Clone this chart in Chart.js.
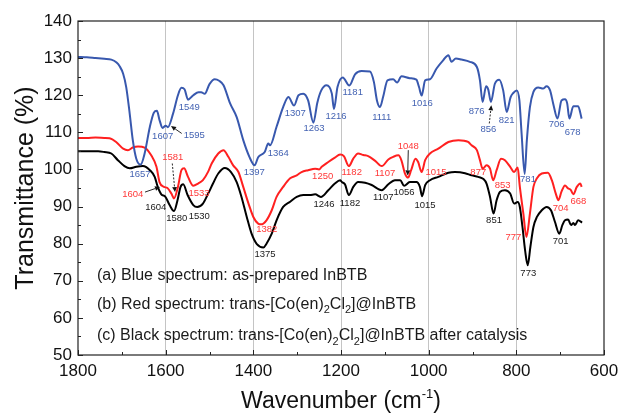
<!DOCTYPE html>
<html>
<head>
<meta charset="utf-8">
<script src="https://cdn.jsdelivr.net/npm/chart.js@4/dist/chart.umd.min.js"></script>
<style>
html,body{margin:0;padding:0;background:#fff;}
#wrap{width:620px;height:415px;}
</style>
</head>
<body>
<div id="wrap"><canvas id="c" width="620" height="415"></canvas></div>
<script>
// ---------- DATA ----------
const xTickLabels = [1800, 1600, 1400, 1200, 1000, 800, 600];
const yTickLabels = [50, 60, 70, 80, 90, 100, 110, 120, 130, 140];

const blueWn = [1800,1780,1760,1740,1724,1712,1705,1697,1690,1682,1675,1667,1657,1648,1636,1627,1620,1614,1607,1600,1595,1583,1572,1564,1557,1549,1537,1525,1519,1511,1500,1488,1478,1468,1453,1438,1423,1409,1397,1389,1374,1366,1362,1347,1332,1320,1307,1297,1286,1275,1263,1254,1245,1233,1221,1216,1208,1196,1181,1168,1153,1134,1125,1118,1111,1104,1094,1081,1072,1062,1043,1028,1022,1016,1008,997,982,967,955,948,938,925,906,890,883,877,869,864,858,849,839,830,822,813,807,799,793,788,781,776,769,761,750,739,731,723,716,706,697,689,684,679,670,659,651];
const blueT  = [130.3,130.2,130.0,129.8,129.6,128.8,127.8,125.8,122.2,115.0,107.9,102.9,101.3,104.3,111.5,115.3,115.8,113.3,111.2,111.8,111.4,115.1,120.0,122.0,121.6,118.8,120.0,120.8,120.8,120.4,123.0,124.3,123.9,122.7,117.8,114.1,107.9,103.4,101.1,103.3,104.7,107.0,106.5,111.5,116.8,119.5,117.2,120.0,120.4,118.6,112.6,118.0,121.3,122.7,120.5,116.3,122.2,124.8,122.6,125.6,126.5,126.4,123.6,118.6,116.8,119.5,124.0,124.3,123.4,125.1,124.6,124.2,122.2,119.9,124.0,124.3,127.2,129.4,130.8,129.0,129.9,129.6,129.0,127.6,124.0,118.2,122.4,121.5,118.2,123.1,124.2,121.3,115.5,119.5,120.6,121.3,118.6,109.7,98.8,107.9,116.8,120.9,122.1,121.8,122.4,121.3,117.8,113.7,118.6,118.9,117.8,113.7,117.0,117.0,113.7];

const redWn = [1800,1780,1760,1740,1728,1713,1697,1686,1675,1663,1648,1633,1621,1614,1604,1596,1587,1581,1572,1564,1558,1549,1537,1526,1515,1503,1495,1480,1468,1457,1446,1434,1423,1411,1400,1389,1382,1370,1358,1347,1332,1316,1301,1290,1275,1259,1250,1244,1229,1214,1202,1193,1182,1172,1161,1149,1138,1122,1107,1092,1081,1069,1062,1054,1047,1040,1030,1024,1016,1008,997,978,955,932,910,902,890,883,877,868,860,853,845,835,826,814,805,797,792,784,777,769,761,753,742,728,719,710,704,697,689,682,676,670,662,654,651];
const redT  = [108.5,108.5,108.6,108.5,108.4,107.4,105.6,105.2,105.9,106.2,105.9,103.8,100.7,96.6,95.3,95.0,93.5,92.2,95.3,99.8,100.3,98.0,95.6,96.2,97.1,99.4,101.6,104.3,105.2,103.4,101.1,99.3,95.3,90.8,87.2,85.4,85.2,86.3,89.0,92.6,95.3,97.6,98.4,99.3,99.8,100.2,100.0,100.7,102.0,103.2,104.0,103.5,100.9,102.9,104.3,103.9,103.6,102.3,100.9,102.7,103.4,103.8,102.4,98.9,97.8,99.8,102.9,102.0,99.3,102.5,104.3,105.6,107.4,107.9,107.4,106.5,105.2,102.5,100.2,101.1,100.2,97.1,99.8,102.9,102.5,100.7,99.3,100.5,95.3,88.1,81.8,88.1,95.3,97.6,98.9,99.1,97.1,93.5,91.7,94.0,95.7,94.9,94.5,93.3,95.3,96.2,95.3];

const blackWn = [1800,1780,1754,1740,1724,1709,1694,1682,1667,1652,1636,1625,1618,1610,1601,1591,1581,1573,1566,1560,1550,1537,1528,1515,1503,1492,1480,1465,1451,1438,1427,1415,1404,1392,1377,1370,1358,1347,1332,1316,1301,1286,1271,1259,1246,1229,1214,1202,1198,1191,1182,1172,1161,1145,1130,1107,1092,1077,1065,1056,1043,1028,1020,1015,1008,997,978,955,940,917,902,887,875,868,860,852,845,837,826,814,805,797,792,786,780,774,768,761,753,742,731,721,712,702,695,689,682,675,670,666,659,650];
const blackT  = [104.9,104.9,104.9,104.7,104.3,102.5,100.9,100.3,100.7,100.9,99.8,98.0,95.3,93.3,92.7,90.4,88.8,91.7,95.3,96.0,93.1,90.4,89.9,90.8,93.5,96.2,98.9,100.4,99.3,96.6,92.6,87.2,82.7,79.9,79.0,80.0,82.7,86.3,89.9,91.3,92.6,93.1,93.1,93.3,92.6,94.4,96.2,97.1,96.6,96.0,93.1,95.3,96.6,96.4,95.8,94.4,96.0,97.1,97.1,95.6,96.6,96.6,95.3,92.8,95.8,97.1,98.0,99.1,99.3,99.0,98.4,98.0,97.4,96.2,92.6,88.1,91.7,94.0,94.4,93.5,90.8,91.2,89.9,84.5,78.2,74.2,79.1,84.5,87.2,89.0,89.9,89.0,85.9,82.7,85.0,86.3,86.5,85.0,85.6,85.0,86.3,85.7];

// peak labels: text, label-anchor wavenumber, label-anchor transmittance
const blueLabels  = ['1657','1607','1595','1549','1397','1364','1307','1263','1216','1181','1111','1016','876','856','821','781','706','678'];
const blueLabWn   = [1658.6,1606.8,1534.7,1546.1,1397.8,1343.0,1304.3,1261.6,1211.4,1173.3,1107.1,1014.5,890.4,863.9,822.0,773.4,707.9,671.4];
const blueLabT    = [98.7,108.9,109.2,116.8,99.2,104.3,115.1,111.0,114.4,120.8,114.1,117.8,115.7,110.8,113.3,97.3,112.2,110.0];

const redLabels = ['1604','1581','1533','1382','1250','1182','1107','1048','1015','877','853','777','704','668'];
const redLabWn  = [1675.2,1583.9,1524.0,1369.5,1241.8,1175.6,1099.6,1046.5,983.3,886.8,831.1,806.9,698.8,658.6];
const redLabT   = [93.2,103.2,93.5,83.8,98.0,99.1,98.9,106.3,99.3,99.3,95.8,81.7,89.5,91.3];

const blackLabels = ['1604','1580','1530','1375','1246','1182','1107','1056','1015','851','773','701'];
const blackLabWn  = [1622.7,1574.8,1523.3,1373.4,1238.8,1179.5,1103.5,1056.3,1008.4,850.9,772.7,698.8];
const blackLabT   = [89.7,86.8,87.4,77.2,90.6,90.8,92.4,93.7,90.4,86.3,72.0,80.5];

// arrows: from (wn,T) to (wn,T)
const arrowFromWn = [1563.4, 861.7, 1647.1, 1584.9, 1046.5];
const arrowFromT  = [109.7, 112.4, 93.9, 101.6, 105.2];
const arrowToWn   = [1587.8, 857.1, 1612.9, 1578.7, 1047.9];
const arrowToT    = [111.7, 117.3, 95.3, 93.9, 98.4];
const arrowDashed = [false, true, false, true, false];

// description lines
const noteLines = [
  [['(a) Blue spectrum: as-prepared InBTB', 0]],
  [['(b) Red spectrum: trans-[Co(en)', 0], ['2', 1], ['Cl', 0], ['2', 1], [']@InBTB', 0]],
  [['(c) Black spectrum: trans-[Co(en)', 0], ['2', 1], ['Cl', 0], ['2', 1], [']@InBTB after catalysis', 0]]
];
const noteWn = 1756.7;
const noteT = [71.5, 63.7, 55.1];

// ---------- STYLE ----------
const BLUE = '#3858ae', BLUE_TXT = '#4463b3';
const RED = '#ff2020', RED_TXT = '#ff3838';
const BLACK = '#000000', BLACK_TXT = '#1a1a1a';
const FONT = '"Liberation Sans", Arial, Helvetica, sans-serif';

function pts(xs, ys) { return xs.map((x, i) => ({x: x, y: ys[i]})); }

const annot = {
  id: 'annot',
  afterDatasetsDraw(chart) {
    const c = chart.ctx, xs = chart.scales.x, ys = chart.scales.y, a = chart.chartArea;
    c.save();
    // frame
    c.strokeStyle = '#222'; c.lineWidth = 1.2;
    c.strokeRect(a.left, a.top, a.right - a.left, a.bottom - a.top);
    // inward ticks
    c.lineWidth = 1; c.strokeStyle = '#222';
    c.beginPath();
    for (let v = 600; v <= 1800; v += 100) {
      const px = Math.round(xs.getPixelForValue(v)) + 0.5;
      const len = (v % 200 === 0) ? 5 : 3;
      c.moveTo(px, a.bottom); c.lineTo(px, a.bottom - len);
    }
    for (let v = 50; v <= 140; v += 5) {
      const py = Math.round(ys.getPixelForValue(v)) + 0.5;
      const len = (v % 10 === 0) ? 5 : 3;
      c.moveTo(a.left, py); c.lineTo(a.left + len, py);
    }
    c.stroke();

    // peak labels
    c.textAlign = 'center'; c.textBaseline = 'middle';
    const drawLabs = (txt, wn, t, col) => {
      c.fillStyle = col;
      c.font = '9.5px ' + FONT;
      txt.forEach((s, i) => c.fillText(s, xs.getPixelForValue(wn[i]), ys.getPixelForValue(t[i])));
    };
    drawLabs(blueLabels, blueLabWn, blueLabT, BLUE_TXT);
    drawLabs(redLabels, redLabWn, redLabT, RED_TXT);
    drawLabs(blackLabels, blackLabWn, blackLabT, BLACK_TXT);

    // arrows
    arrowFromWn.forEach((w, i) => {
      const x1 = xs.getPixelForValue(w), y1 = ys.getPixelForValue(arrowFromT[i]);
      const x2 = xs.getPixelForValue(arrowToWn[i]), y2 = ys.getPixelForValue(arrowToT[i]);
      c.strokeStyle = '#111'; c.fillStyle = '#111'; c.lineWidth = 0.9;
      c.setLineDash(arrowDashed[i] ? [2, 1.5] : []);
      const ang = Math.atan2(y2 - y1, x2 - x1);
      const hl = 5, hw = 2.4;
      c.beginPath();
      c.moveTo(x1, y1);
      c.lineTo(x2 - Math.cos(ang) * hl, y2 - Math.sin(ang) * hl);
      c.stroke();
      c.setLineDash([]);
      c.beginPath();
      c.moveTo(x2, y2);
      c.lineTo(x2 - Math.cos(ang) * hl - Math.sin(ang) * hw, y2 - Math.sin(ang) * hl + Math.cos(ang) * hw);
      c.lineTo(x2 - Math.cos(ang) * hl + Math.sin(ang) * hw, y2 - Math.sin(ang) * hl - Math.cos(ang) * hw);
      c.closePath(); c.fill();
    });

    // description lines
    c.textAlign = 'left'; c.textBaseline = 'middle'; c.fillStyle = '#1a1a1a';
    noteLines.forEach((segs, i) => {
      let x = xs.getPixelForValue(noteWn);
      const y = ys.getPixelForValue(noteT[i]);
      segs.forEach(([s, sub]) => {
        c.font = (sub ? '11px ' : '16px ') + FONT;
        c.fillText(s, x, sub ? y + 6 : y);
        x += c.measureText(s).width;
      });
    });

    // x-axis title with superscript
    const main1 = 'Wavenumber (cm', sup = '-1', main2 = ')';
    c.textBaseline = 'alphabetic';
    c.font = '23px ' + FONT; const w1 = c.measureText(main1).width, w3 = c.measureText(main2).width;
    c.font = '13px ' + FONT; const w2 = c.measureText(sup).width;
    let x0 = (a.left + a.right) / 2 - (w1 + w2 + w3) / 2;
    const yb = 408;
    c.fillStyle = '#111';
    c.font = '23px ' + FONT; c.fillText(main1, x0, yb); x0 += w1;
    c.font = '13px ' + FONT; c.fillText(sup, x0, yb - 10); x0 += w2;
    c.font = '23px ' + FONT; c.fillText(main2, x0, yb);
    c.restore();
  }
};

new Chart(document.getElementById('c'), {
  type: 'line',
  data: {
    datasets: [
      {label: 'as-prepared InBTB', data: pts(blueWn, blueT), borderColor: BLUE, borderWidth: 2},
      {label: 'trans-[Co(en)2Cl2]@InBTB', data: pts(redWn, redT), borderColor: RED, borderWidth: 2},
      {label: 'trans-[Co(en)2Cl2]@InBTB after catalysis', data: pts(blackWn, blackT), borderColor: BLACK, borderWidth: 2}
    ]
  },
  options: {
    responsive: false,
    animation: false,
    datasets: {line: {pointRadius: 0, fill: false, cubicInterpolationMode: 'monotone'}},
    layout: {padding: {top: 21, right: 16, left: 0, bottom: 0}},
    plugins: {legend: {display: false}, tooltip: {enabled: false}},
    scales: {
      x: {
        type: 'linear', reverse: true, min: 600, max: 1800,
        afterBuildTicks: s => { s.ticks = []; for (let v = 600; v <= 1800; v += 100) s.ticks.push({value: v}); },
        ticks: {
          autoSkip: false, maxRotation: 0, padding: 6, color: '#111',
          font: {family: FONT, size: 17},
          callback: v => xTickLabels.includes(v) ? String(v) : ''
        },
        grid: {
          drawTicks: false, lineWidth: 1,
          color: ctx => (ctx.tick && xTickLabels.includes(ctx.tick.value) && ctx.tick.value > 600 && ctx.tick.value < 1800) ? '#c4c4c4' : 'rgba(0,0,0,0)'
        },
        border: {display: false},
        afterFit: s => { s.height = 60; }
      },
      y: {
        min: 50, max: 140,
        afterBuildTicks: s => { s.ticks = yTickLabels.map(v => ({value: v})); },
        ticks: {padding: 6, color: '#111', font: {family: FONT, size: 17}},
        grid: {display: false, drawTicks: false},
        border: {display: false},
        title: {display: true, text: 'Transmittance (%)', color: '#111', font: {family: FONT, size: 25}, padding: {top: 11, bottom: 0}},
        afterFit: s => { s.width = 78; }
      }
    }
  },
  plugins: [annot]
});
</script>
</body>
</html>
